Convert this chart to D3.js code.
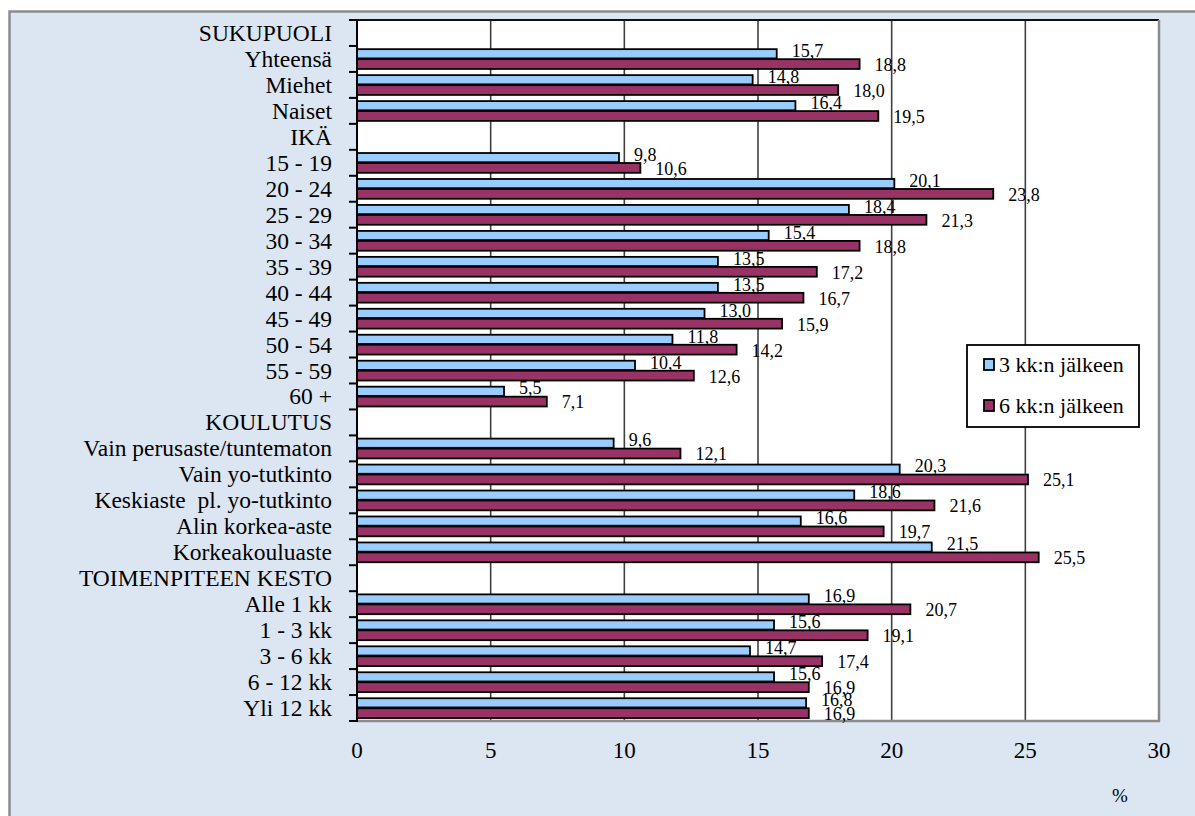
<!DOCTYPE html>
<html>
<head>
<meta charset="utf-8">
<script src="https://cdn.jsdelivr.net/npm/d3@7"></script>
<style>
  html, body { margin: 0; padding: 0; background: #ffffff; }
  svg { display: block; }
  text { font-family: "Liberation Serif", "Times New Roman", serif; fill: #000; }
</style>
</head>
<body>
<svg id="chart" width="1195" height="816"></svg>
<script>
const categories = [
  "SUKUPUOLI", "Yhteensä", "Miehet", "Naiset",
  "IKÄ", "15 - 19", "20 - 24", "25 - 29", "30 - 34", "35 - 39", "40 - 44", "45 - 49", "50 - 54", "55 - 59", "60 +",
  "KOULUTUS", "Vain perusaste/tuntematon", "Vain yo-tutkinto", "Keskiaste  pl. yo-tutkinto", "Alin korkea-aste", "Korkeakouluaste",
  "TOIMENPITEEN KESTO", "Alle 1 kk", "1 - 3 kk", "3 - 6 kk", "6 - 12 kk", "Yli 12 kk"
];
const after3 = [
  null, 15.7, 14.8, 16.4,
  null, 9.8, 20.1, 18.4, 15.4, 13.5, 13.5, 13.0, 11.8, 10.4, 5.5,
  null, 9.6, 20.3, 18.6, 16.6, 21.5,
  null, 16.9, 15.6, 14.7, 15.6, 16.8
];
const after6 = [
  null, 18.8, 18.0, 19.5,
  null, 10.6, 23.8, 21.3, 18.8, 17.2, 16.7, 15.9, 14.2, 12.6, 7.1,
  null, 12.1, 25.1, 21.6, 19.7, 25.5,
  null, 20.7, 19.1, 17.4, 16.9, 16.9
];
const seriesNames = ["3 kk:n jälkeen", "6 kk:n jälkeen"];
const xTicks = [0, 5, 10, 15, 20, 25, 30];
const unitLabel = "%";

const svg = d3.select("#chart");
const W = 1195, H = 816;
const plot = { left: 357, right: 1159, top: 20, bottom: 721 };
const blueFill = "#99ccff", redFill = "#993366";

// outer frame
svg.append("rect").attr("x", 9.5).attr("y", 11.5).attr("width", W + 10).attr("height", H + 10)
  .attr("fill", "#dce6f2").attr("stroke", "#8c8c8c").attr("stroke-width", 2.5);

const x = d3.scaleLinear().domain([0, 30]).range([plot.left, plot.right]);
const y = d3.scaleBand().domain(categories).range([plot.top, plot.bottom]).padding(0);
const bw = y.bandwidth();

// plot area
svg.append("rect").attr("x", plot.left).attr("y", plot.top)
  .attr("width", plot.right - plot.left).attr("height", plot.bottom - plot.top)
  .attr("fill", "#ffffff");

// gridlines
svg.append("g").selectAll("line").data(xTicks.filter(t => t > 0 && t < 30)).join("line")
  .attr("x1", d => x(d)).attr("x2", d => x(d))
  .attr("y1", plot.top).attr("y2", plot.bottom)
  .attr("stroke", "#404040").attr("stroke-width", 1.6);

// plot borders
svg.append("line").attr("x1", plot.left).attr("x2", plot.right).attr("y1", plot.top).attr("y2", plot.top)
  .attr("stroke", "#111").attr("stroke-width", 2);
svg.append("line").attr("x1", plot.right).attr("x2", plot.right).attr("y1", plot.top).attr("y2", plot.bottom + 1)
  .attr("stroke", "#8a8a8a").attr("stroke-width", 2.5);
svg.append("line").attr("x1", plot.left).attr("x2", plot.right + 1).attr("y1", plot.bottom).attr("y2", plot.bottom)
  .attr("stroke", "#8a8a8a").attr("stroke-width", 2.5);

const rows = categories.map((c, i) => ({ c, a: after3[i], b: after6[i] }));
const fmt = v => v.toFixed(1).replace(".", ",");

// blue bars
svg.append("g").selectAll("rect").data(rows.filter(r => r.a != null)).join("rect")
  .attr("x", x(0)).attr("y", d => y(d.c) + 3.2)
  .attr("width", d => x(d.a) - x(0)).attr("height", 9.2)
  .attr("fill", blueFill).attr("stroke", "#000").attr("stroke-width", 1.8);
// blue labels
svg.append("g").selectAll("text").data(rows.filter(r => r.a != null)).join("text")
  .attr("x", d => x(d.a) + 15).attr("y", d => y(d.c) + 11)
  .attr("font-size", 18).text(d => fmt(d.a));
// red bars
svg.append("g").selectAll("rect").data(rows.filter(r => r.b != null)).join("rect")
  .attr("x", x(0)).attr("y", d => y(d.c) + 13.2)
  .attr("width", d => x(d.b) - x(0)).attr("height", 9.8)
  .attr("fill", redFill).attr("stroke", "#000").attr("stroke-width", 1.8);
// red labels
svg.append("g").selectAll("text").data(rows.filter(r => r.b != null)).join("text")
  .attr("x", d => x(d.b) + 15).attr("y", d => y(d.c) + 25)
  .attr("font-size", 18).text(d => fmt(d.b));

// y axis line and ticks
svg.append("line").attr("x1", plot.left).attr("x2", plot.left).attr("y1", plot.top).attr("y2", plot.bottom + 1)
  .attr("stroke", "#000").attr("stroke-width", 2);
const boundaries = categories.map(c => y(c)).concat([plot.bottom]);
svg.append("g").selectAll("line").data(boundaries).join("line")
  .attr("x1", plot.left - 8).attr("x2", plot.left).attr("y1", d => d).attr("y2", d => d)
  .attr("stroke", "#000").attr("stroke-width", 2);

// category labels
svg.append("g").selectAll("text").data(categories).join("text")
  .attr("x", 332).attr("y", d => y(d) + bw / 2 + 8)
  .attr("text-anchor", "end").attr("font-size", 23.5)
  .style("white-space", "pre")
  .text(d => d);

// x tick labels
svg.append("g").selectAll("text").data(xTicks).join("text")
  .attr("x", d => x(d)).attr("y", 758)
  .attr("text-anchor", "middle").attr("font-size", 23)
  .text(d => d);

svg.append("text").attr("x", 1120).attr("y", 802).attr("text-anchor", "middle")
  .attr("font-size", 19).text(unitLabel);

// legend
const lg = svg.append("g");
lg.append("rect").attr("x", 967).attr("y", 345).attr("width", 172).attr("height", 82)
  .attr("fill", "#fff").attr("stroke", "#000").attr("stroke-width", 1.8);
const legendItems = [{ n: seriesNames[0], f: blueFill, yy: 359 }, { n: seriesNames[1], f: redFill, yy: 400 }];
legendItems.forEach(it => {
  lg.append("rect").attr("x", 984).attr("y", it.yy).attr("width", 10).attr("height", 11)
    .attr("fill", it.f).attr("stroke", "#000").attr("stroke-width", 1.8);
  lg.append("text").attr("x", 999).attr("y", it.yy + 12.5).attr("font-size", 22)
    .text(it.n);
});
</script>
</body>
</html>
